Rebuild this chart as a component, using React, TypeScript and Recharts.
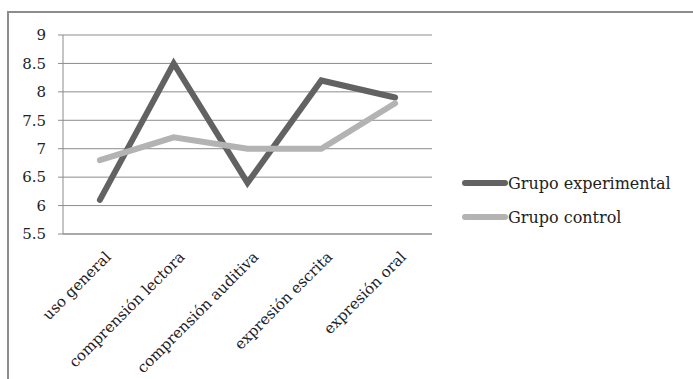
import { CartesianGrid, Legend, Line, LineChart, XAxis, YAxis } from "recharts"

const categories = ["uso general", "comprensión lectora", "comprensión auditiva", "expresión escrita", "expresión oral"]
const experimental = [6.1, 8.5, 6.4, 8.2, 7.9]
const control = [6.8, 7.2, 7.0, 7.0, 7.8]
const yTicks = [5.5, 6, 6.5, 7, 7.5, 8, 8.5, 9]
const xBoundaries = [0, 1, 2, 3, 4, 5]

const FONT = "'DejaVu Serif', serif"
const DARK = "#626262"
const LIGHT = "#b3b3b3"
const AXIS = "#8c8c8c"

// category i sits in the middle of its slot
const data = categories.map((name, i) => ({
  name,
  pos: i + 0.5,
  experimental: experimental[i],
  control: control[i],
}))

function CategoryTick(props: any) {
  const { x, y, payload } = props
  const px = x + 4
  const py = y + 2
  return (
    <text
      x={px}
      y={py}
      transform={`rotate(-45, ${px}, ${py})`}
      textAnchor="end"
      dominantBaseline="hanging"
      fontFamily={FONT}
      fontSize={15}
      fill="#222"
    >
      {categories[Math.floor(payload.value)]}
    </text>
  )
}

function LegendContent() {
  const items = [
    { label: "Grupo experimental", color: DARK },
    { label: "Grupo control", color: LIGHT },
  ]
  return (
    <div>
      {items.map((it) => (
        <div key={it.label} style={{ display: "flex", alignItems: "center", height: 34 }}>
          <svg width={46} height={10}>
            <line x1={3} y1={5} x2={43} y2={5} stroke={it.color} strokeWidth={6} strokeLinecap="round" />
          </svg>
          <span style={{ fontFamily: FONT, fontSize: 16, color: "#222" }}>{it.label}</span>
        </div>
      ))}
    </div>
  )
}

export default function App() {
  return (
    <div style={{ position: "absolute", left: 0, top: 0, width: 693, height: 379, background: "#fff" }}>
      <div
        style={{
          position: "absolute",
          left: 7,
          top: 11,
          right: 0,
          bottom: 0,
          borderTop: `2px solid ${AXIS}`,
          borderLeft: `2px solid ${AXIS}`,
        }}
      />
      <div style={{ position: "absolute", left: 0, top: 0 }}>
        <LineChart width={693} height={379} data={data} margin={{ top: 35, right: 261, bottom: 0, left: 0 }}>
          <CartesianGrid horizontal vertical={false} stroke={AXIS} strokeWidth={1} />
          <XAxis
            xAxisId="grid"
            dataKey="pos"
            type="number"
            domain={[0, 5]}
            ticks={xBoundaries}
            tick={false}
            tickLine={{ stroke: AXIS }}
            tickSize={5}
            axisLine={{ stroke: AXIS }}
            height={6}
          />
          <XAxis
            xAxisId="labels"
            dataKey="pos"
            type="number"
            domain={[0, 5]}
            ticks={data.map((d) => d.pos)}
            axisLine={false}
            tickLine={false}
            tick={<CategoryTick />}
            interval={0}
            height={139}
          />
          <YAxis
            domain={[5.5, 9]}
            ticks={yTicks}
            interval={0}
            width={63}
            axisLine={{ stroke: AXIS }}
            tickLine={{ stroke: AXIS }}
            tickSize={5}
            tickMargin={12}
            tick={{ fontFamily: FONT, fontSize: 15, fill: "#222" }}
          />
          <Legend
            layout="vertical"
            align="center"
            verticalAlign="middle"
            content={<LegendContent />}
            wrapperStyle={{ left: 462, top: 166, width: 230 }}
          />
          <Line
            xAxisId="grid"
            dataKey="experimental"
            stroke={DARK}
            strokeWidth={6}
            strokeLinecap="round"
            dot={false}
            isAnimationActive={false}
          />
          <Line
            xAxisId="grid"
            dataKey="control"
            stroke={LIGHT}
            strokeWidth={6}
            strokeLinecap="round"
            dot={false}
            isAnimationActive={false}
          />
        </LineChart>
      </div>
    </div>
  )
}
